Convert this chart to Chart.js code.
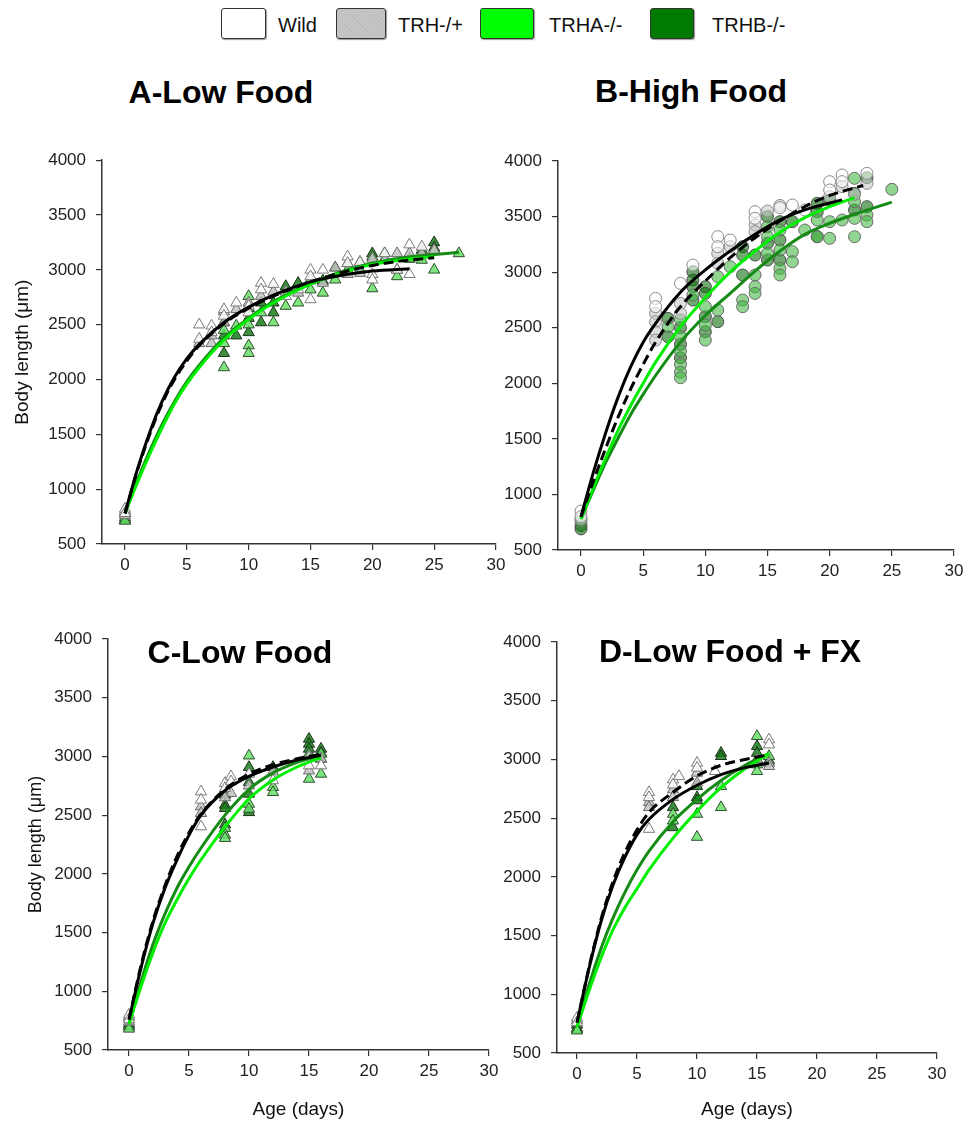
<!DOCTYPE html>
<html>
<head>
<meta charset="utf-8">
<script src="https://cdn.jsdelivr.net/npm/chart.js@4.4.1/dist/chart.umd.min.js"></script>
<style>
  body { margin: 0; background: #fff; font-family: "Liberation Sans", Arial, sans-serif; }
  #wrap { position: relative; width: 969px; height: 1139px; overflow: hidden; }
  canvas { position: absolute; }
  .title { position: absolute; font-weight: bold; font-size: 32px; line-height: 32px; color: #000; text-align: center; white-space: nowrap; }
  .lbox { position: absolute; top: 8px; height: 29px; border: 1.5px solid #333; border-radius: 3px; box-shadow: 1px 1px 1px #999; }
  .ltxt { position: absolute; top: 15px; font-size: 20px; line-height: 20px; color: #111; }
</style>
</head>
<body>
<div id="wrap">
  <div class="lbox" style="left:221px;width:43px;background:#fff"></div>
  <div class="ltxt" style="left:278px">Wild</div>
  <div class="lbox" style="left:336px;width:48px;background:repeating-linear-gradient(45deg,#c6c6c6 0 2px,#bdbdbd 2px 3px)"></div>
  <div class="ltxt" style="left:398px">TRH-/+</div>
  <div class="lbox" style="left:480px;width:52px;background:#00ff00"></div>
  <div class="ltxt" style="left:549px">TRHA-/-</div>
  <div class="lbox" style="left:650px;width:42px;background:#007a00"></div>
  <div class="ltxt" style="left:712px">TRHB-/-</div>

  <div class="title" style="left:0;width:442px;top:76px">A-Low Food</div>
  <div class="title" style="left:491px;width:400px;top:75px">B-High Food</div>

  <canvas id="chartA" width="515" height="460" style="left:0;top:140px"></canvas>
  <canvas id="chartB" width="509" height="460" style="left:460px;top:140px"></canvas>
  <canvas id="chartC" width="505" height="530" style="left:0;top:600px"></canvas>
  <canvas id="chartD" width="500" height="530" style="left:460px;top:600px"></canvas>

  <div class="title" style="left:40px;width:400px;top:636px">C-Low Food</div>
  <div class="title" style="left:530px;width:400px;top:635px">D-Low Food + FX</div>
</div>
<script>
// ---- data: [age (days), body length (um)] ----
const groups = ["Wild", "TRH-/+", "TRHA-/-", "TRHB-/-"];
const xTicks = [0, 5, 10, 15, 20, 25, 30];
const yTicks = [500, 1000, 1500, 2000, 2500, 3000, 3500, 4000];

// A - Low Food
const A_wild = [[0,820],[0,780],[6,2500],[6,2370],[7,2490],[7,2430],[8,2640],[8,2580],[9,2700],[10,2670],[10,2610],[11,2880],[11,2820],[12,2870],[13,2760],[14,2820],[15,3000],[15,2940],[15,2730],[16,3000],[18,3120],[18,3060],[19,3070],[20,2960],[20,2910],[21,3150],[22,3000],[23,3230],[23,2960],[24,3210]];
const A_het = [[0,800],[0,760],[6,2330],[7,2330],[7,2400],[8,2520],[8,2620],[9,2640],[10,2700],[11,2760],[12,2800],[13,2800],[14,2790],[15,2900],[16,2880],[17,3020],[18,2960],[19,2970],[20,3100],[21,3090],[22,3150],[23,3150],[24,3150],[25,3180]];
const A_trha = [[0,740],[0,710],[8,2330],[8,2110],[8,2450],[9,2490],[10,2760],[10,2500],[10,2310],[10,2240],[11,2610],[12,2520],[13,2670],[14,2700],[15,2820],[16,2790],[17,2910],[18,3000],[19,3000],[20,3120],[20,2830],[21,3100],[22,2940],[23,3100],[24,3090],[25,3000],[25,3180],[27,3150]];
const A_trhb = [[0,780],[0,720],[8,2240],[8,2400],[8,2520],[9,2400],[10,2430],[10,2560],[10,2650],[11,2520],[11,2700],[12,2610],[12,2700],[13,2850],[14,2880],[15,2910],[16,2900],[17,3020],[18,3060],[19,3070],[20,3150],[21,3150],[22,3000],[23,3100],[24,3180],[25,3250],[25,3200]];
const A_fitWild = [[0,780],[1,1180],[2,1520],[3,1800],[4,2020],[5,2190],[6,2320],[8,2520],[10,2660],[12,2770],[15,2890],[18,2960],[20,2990],[23,3010]];
const A_fitHet = [[0,780],[1,1170],[2,1500],[3,1780],[4,2000],[5,2170],[6,2310],[8,2510],[10,2650],[12,2760],[15,2890],[18,2990],[20,3040],[23,3090],[25,3110]];
const A_fitTrha = [[0,780],[1,1060],[2,1320],[3,1560],[4,1780],[5,1960],[6,2110],[8,2360],[10,2550],[12,2700],[15,2870],[18,2990],[20,3050],[23,3100],[25,3120]];
const A_fitTrhb = [[0,780],[1,1080],[2,1350],[3,1590],[4,1800],[5,1980],[6,2130],[8,2380],[10,2560],[12,2710],[15,2880],[18,3000],[20,3060],[23,3120],[25,3140],[27,3160]];

// B - High Food
const B_wild = [[0,850],[0,800],[6,2764],[6,2689],[8,2899],[9,3064],[11,3319],[11,3229],[12,3289],[14,3544],[14,3484],[16,3580],[17,3604],[18,3559],[20,3814],[20,3739],[21,3874],[21,3814],[23,3889]];
const B_het = [[0,780],[6,2629],[6,2554],[6,2464],[6,2389],[8,2719],[8,2629],[11,3169],[11,3079],[12,3229],[14,3424],[14,3364],[15,3550],[16,3600],[20,3679],[21,3769],[22,3700],[23,3799]];
const B_trha = [[0,760],[7,2509],[8,2569],[8,2420],[8,2290],[8,2170],[8,2100],[8,2050],[9,2794],[10,2689],[10,2524],[10,2389],[11,2959],[11,2659],[12,3049],[13,2749],[13,2689],[14,2974],[14,2869],[14,2809],[15,3409],[15,3319],[15,3169],[16,3379],[16,3199],[16,3034],[16,2974],[17,3184],[17,3094],[18,3379],[19,3469],[19,3319],[20,3454],[20,3304],[21,3469],[22,3844],[22,3634],[22,3484],[22,3319],[23,3514],[23,3454],[25,3745]];
const B_trhb = [[0,720],[0,690],[7,2584],[7,2419],[8,2500],[8,2350],[8,2230],[9,3004],[9,2929],[9,2869],[9,2749],[10,2869],[10,2809],[10,2599],[10,2464],[11,2554],[13,3229],[13,3154],[13,2974],[14,3154],[15,3499],[15,3259],[15,3109],[16,3454],[16,3289],[16,3109],[17,3454],[19,3619],[19,3544],[19,3319],[20,3649],[22,3709],[22,3559],[23,3589],[23,3850]];
const B_fitWild = [[0,800],[1,1200],[2,1560],[3,1880],[4,2150],[5,2370],[6,2540],[8,2820],[10,3020],[12,3190],[14,3340],[16,3470],[18,3560],[21,3650]];
const B_fitHet = [[0,800],[1,1120],[2,1420],[3,1700],[4,1950],[5,2170],[6,2370],[8,2690],[10,2920],[12,3130],[14,3310],[16,3460],[18,3590],[20,3690],[22.7,3780]];
const B_fitTrha = [[0,780],[1,1060],[2,1330],[3,1580],[4,1800],[5,2000],[6,2190],[8,2510],[10,2770],[12,3000],[14,3190],[16,3360],[18,3490],[20,3590],[22,3670]];
const B_fitTrhb = [[0,780],[1,1040],[2,1290],[3,1510],[4,1720],[5,1900],[6,2070],[8,2370],[10,2610],[12,2810],[14,3010],[16,3190],[18,3340],[20,3440],[22,3520],[25,3630]];

// C - Low Food
const C_wild = [[0,800],[0,760],[6,2700],[6,2630],[6,2403],[8,2772],[8,2729],[8.5,2829],[8.5,2786],[10,2850],[12,2795],[15,2922],[16,2922]];
const C_het = [[0,780],[0,740],[6,2573],[6,2516],[8.5,2687],[8,2650],[10,2750],[12,2870],[15,2879],[15,3000],[16,2980]];
const C_trha = [[0,700],[0,680],[8,2389],[8,2332],[8,2304],[10,3006],[10,2595],[10,2552],[12,2738],[12,2695],[15,2808],[15,3021],[16,2851],[16,3021]];
const C_trhb = [[0,720],[0,700],[8,2673],[8,2587],[8,2559],[8,2420],[10,2908],[10,2780],[10,2681],[10,2524],[12,2908],[15,3149],[15,3106],[15,3064],[16,3064],[16,2979],[16,3030]];
const C_fitWild = [[0,760],[1,1200],[2,1580],[3,1880],[4,2120],[5,2330],[6,2500],[8,2710],[10,2830],[12,2910],[14,2970],[16,3010]];
const C_fitHet = [[0,760],[1,1220],[2,1600],[3,1900],[4,2150],[5,2350],[6,2510],[8,2720],[10,2850],[12,2930],[14,2980],[16,3020]];
const C_fitTrha = [[0,720],[1,1040],[2,1330],[3,1580],[4,1780],[5,1960],[6,2120],[8,2400],[10,2640],[12,2800],[14,2910],[16,2990]];
const C_fitTrhb = [[0,720],[1,1080],[2,1400],[3,1660],[4,1880],[5,2060],[6,2220],[8,2500],[10,2720],[12,2860],[14,2950],[16,3010]];

// D - Low Food + FX
const D_wild = [[0,800],[0,760],[6,2720],[6,2677],[6,2407],[8,2828],[8,2785],[8.5,2856],[10,2970],[10,2928],[11.5,2899],[16,3169],[16,3126]];
const D_het = [[0,780],[6,2635],[6,2592],[8,2743],[8,2677],[10,2885],[10,2800],[15,3000],[16,2970],[16,2942]];
const D_trha = [[0,700],[0,690],[8,2535],[8,2478],[10,2535],[10,2339],[12,2771],[12,2592],[15,3197],[15,2956],[15,2899],[16,3027]];
const D_trhb = [[0,740],[0,710],[8,2592],[8,2421],[10,2771],[10,2677],[10,2650],[12,3055],[12,3027],[15,3112],[15,3055],[15,2998],[16,2990]];
const D_fitWild = [[0,760],[1,1220],[2,1620],[3,1930],[4,2170],[5,2360],[6,2490],[8,2660],[10,2780],[12,2870],[14,2930],[16,2970]];
const D_fitHet = [[0,760],[1,1230],[2,1640],[3,1960],[4,2210],[5,2400],[6,2550],[8,2720],[10,2860],[12,2950],[14,3000],[16,3040]];
const D_fitTrha = [[0,720],[1,1030],[2,1310],[3,1550],[4,1740],[5,1900],[6,2060],[8,2330],[10,2560],[12,2760],[14,2920],[16,3050]];
const D_fitTrhb = [[0,720],[1,1080],[2,1390],[3,1650],[4,1870],[5,2060],[6,2220],[8,2470],[10,2660],[12,2820],[14,2950],[16,3050]];

const FONT = "'Liberation Sans', Arial, sans-serif";
const toXY = pts => pts.map(p => ({ x: p[0], y: p[1] }));

// marker looks per group
const triStyle = [
  { bg: "rgba(255,255,255,0.9)", bd: "#7a7a7a" },
  { bg: "rgba(195,195,195,0.85)", bd: "#6a6a6a" },
  { bg: "rgba(105,225,105,0.85)", bd: "#2f4f2f" },
  { bg: "rgba(25,125,25,0.85)", bd: "#1c321c" }
];
const dotStyle = [
  { bg: "rgba(255,255,255,0.55)", bd: "#8a8a8a" },
  { bg: "rgba(200,200,200,0.6)", bd: "#8a8a8a" },
  { bg: "rgba(70,185,70,0.6)", bd: "#6a6a6a" },
  { bg: "rgba(15,115,15,0.6)", bd: "#4a4a4a" }
];
const lineStyle = [
  { color: "#000000", dash: [] },
  { color: "#000000", dash: [10, 5] },
  { color: "#00ee00", dash: [] },
  { color: "#158a15", dash: [] }
];

function makePanel(id, p) {
  const datasets = [];
  p.fits.forEach((f, i) => {
    datasets.push({
      label: groups[i] + " fit",
      data: toXY(f),
      showLine: true,
      pointRadius: 0,
      borderColor: lineStyle[i].color,
      borderDash: lineStyle[i].dash,
      borderWidth: 3,
      cubicInterpolationMode: "monotone",
      order: 0
    });
  });
  p.points.forEach((pts, i) => {
    const st = p.circles ? dotStyle[i] : triStyle[i];
    datasets.push({
      label: groups[i],
      data: toXY(pts),
      showLine: false,
      pointStyle: p.circles ? "circle" : "triangle",
      pointRadius: p.circles ? 6 : 6.5,
      pointBackgroundColor: st.bg,
      pointBorderColor: st.bd,
      pointBorderWidth: 1,
      order: 1
    });
  });

  new Chart(document.getElementById(id), {
    type: "scatter",
    data: { datasets },
    options: {
      responsive: false,
      animation: false,
      events: [],
      layout: { padding: p.pad },
      plugins: { legend: { display: false }, tooltip: { enabled: false } },
      scales: {
        x: {
          type: "linear",
          min: p.xmin,
          max: 30,
          afterBuildTicks: s => { s.ticks = xTicks.map(v => ({ value: v })); },
          afterFit: s => { s.height = p.xh; },
          grid: { drawOnChartArea: false, drawTicks: true, tickLength: 6, color: "#333", lineWidth: 1.2 },
          border: { display: true, color: "#333", width: 1.5 },
          ticks: { font: { family: FONT, size: 17 }, color: "#222", padding: 5, maxRotation: 0, callback: v => String(v) },
          title: {
            display: !!p.xTitle,
            text: "Age (days)",
            font: { family: FONT, size: 19 },
            color: "#111",
            padding: { top: 0, bottom: 9 }
          }
        },
        y: {
          min: 500,
          max: 4000,
          afterBuildTicks: s => { s.ticks = yTicks.map(v => ({ value: v })); },
          afterFit: s => { s.width = p.yw; },
          grid: { drawOnChartArea: false, drawTicks: true, tickLength: 6, color: "#333", lineWidth: 1.2 },
          border: { display: true, color: "#333", width: 1.5 },
          ticks: { font: { family: FONT, size: 17 }, color: "#222", padding: 10, callback: v => String(v) },
          title: {
            display: !!p.yTitle,
            text: "Body length (\u03bcm)",
            font: { family: FONT, size: p.yTitleSize || 19 },
            color: "#111",
            padding: { top: p.yTitlePad || 10, bottom: 0 }
          }
        }
      }
    }
  });
}

makePanel("chartA", {
  points: [A_wild, A_het, A_trha, A_trhb],
  fits: [A_fitWild, A_fitHet, A_fitTrha, A_fitTrhb],
  xmin: -1.86, yw: 102, xh: 56,
  pad: { top: 16, right: 19, left: 0, bottom: 0 },
  yTitle: true, yTitleSize: 19, yTitlePad: 11
});
makePanel("chartB", {
  points: [B_wild, B_het, B_trha, B_trhb],
  fits: [B_fitWild, B_fitHet, B_fitTrha, B_fitTrhb],
  circles: true,
  xmin: -1.85, yw: 98, xh: 50,
  pad: { top: 21, right: 15, left: 0, bottom: 0 }
});
makePanel("chartC", {
  points: [C_wild, C_het, C_trha, C_trhb],
  fits: [C_fitWild, C_fitHet, C_fitTrha, C_fitTrhb],
  xmin: -1.75, yw: 108, xh: 80,
  pad: { top: 39, right: 16, left: 0, bottom: 0 },
  yTitle: true, yTitleSize: 18, yTitlePad: 25, xTitle: true
});
makePanel("chartD", {
  points: [D_wild, D_het, D_trha, D_trhb],
  fits: [D_fitWild, D_fitHet, D_fitTrha, D_fitTrhb],
  xmin: -1.67, yw: 97, xh: 77,
  pad: { top: 42, right: 23, left: 0, bottom: 0 },
  xTitle: true
});
</script>
</body>
</html>
